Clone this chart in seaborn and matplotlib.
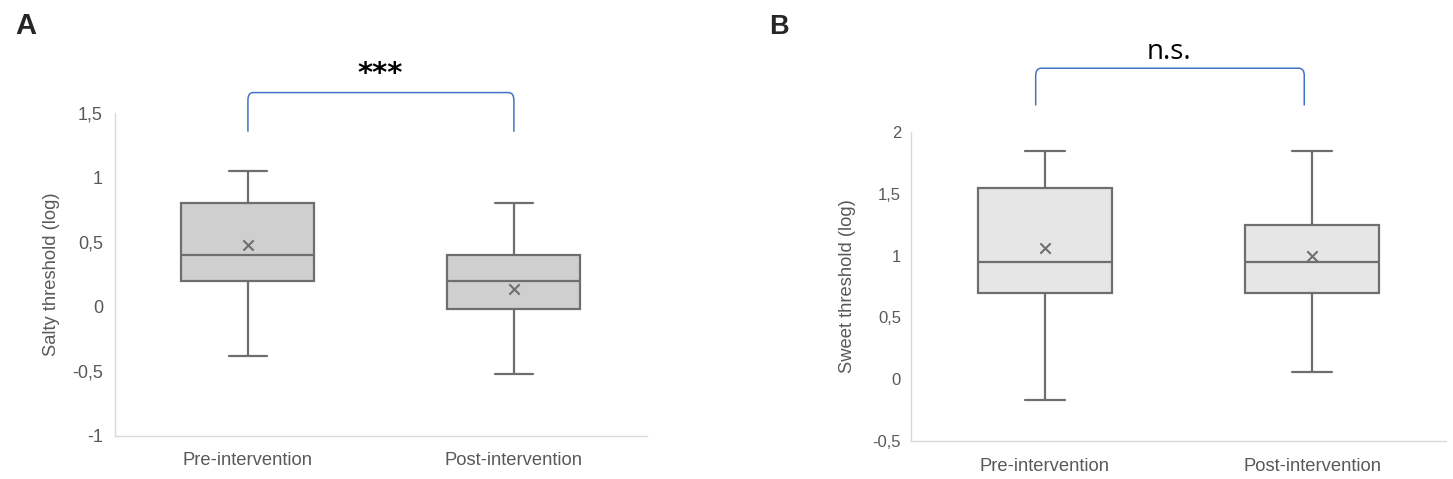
import matplotlib
matplotlib.use("Agg")
import matplotlib.pyplot as plt
from matplotlib.path import Path
from matplotlib.patches import PathPatch
from matplotlib.ticker import FuncFormatter
import seaborn as sns
import pandas as pd

groups = ["Pre-intervention", "Post-intervention"]

# panel A - salty threshold (log)
salty_min = [-0.38, -0.52]
salty_q1 = [0.20, -0.02]
salty_median = [0.40, 0.20]
salty_q3 = [0.80, 0.40]
salty_max = [1.05, 0.80]
salty_mean = [0.48, 0.14]

# panel B - sweet threshold (log)
sweet_min = [-0.17, 0.06]
sweet_q1 = [0.70, 0.70]
sweet_median = [0.95, 0.95]
sweet_q3 = [1.55, 1.25]
sweet_max = [1.85, 1.85]
sweet_mean = [1.06, 1.00]

sns.set_style("white")
plt.rcParams["font.family"] = ["Liberation Sans", "DejaVu Sans"]

EDGE = "#6e6e6e"
TXT = "#595959"
AXIS = "#d9d9d9"
BLUE = "#4472c4"


def five_numbers(mins, q1, med, q3, maxs):
    # five points per group -> quartiles of the sample equal the summary values
    rows = []
    for i, g in enumerate(groups):
        for v in (mins[i], q1[i], med[i], q3[i], maxs[i]):
            rows.append({"group": g, "value": v})
    return pd.DataFrame(rows)


def comma(v, pos):
    return f"{v:g}".replace(".", ",")


def bracket(ax, x0, x1, ybot, ytop, r, rx):
    verts = [(x0, ybot), (x0, ytop - r), (x0, ytop), (x0 + rx, ytop),
             (x1 - rx, ytop), (x1, ytop), (x1, ytop - r), (x1, ybot)]
    codes = [Path.MOVETO, Path.LINETO, Path.CURVE3, Path.CURVE3,
             Path.LINETO, Path.CURVE3, Path.CURVE3, Path.LINETO]
    ax.add_patch(PathPatch(Path(verts, codes), fill=False, edgecolor=BLUE,
                           linewidth=1.1, clip_on=False))


def panel(ax, df, means, fill, ylabel, ylim, yticks, capw,
          ticksize, ypad, xpad, labelx):
    sns.boxplot(data=df, x="group", y="value", ax=ax, whis=(0, 100),
                width=0.5, color=fill, linecolor=EDGE, linewidth=1.6,
                fliersize=0, saturation=1)
    for c in ax.containers:
        for cap in c.caps:
            xs = cap.get_xdata()
            mid = (xs[0] + xs[1]) / 2
            cap.set_xdata([mid - capw, mid + capw])
    sns.scatterplot(x=list(range(len(groups))), y=means, ax=ax, marker="x",
                    color=EDGE, s=55, linewidth=1.5, zorder=5, legend=False)
    ax.set_xlim(-0.5, 1.5)
    ax.set_ylim(*ylim)
    ax.set_yticks(yticks)
    ax.yaxis.set_major_formatter(FuncFormatter(comma))
    ax.set_xlabel("")
    ax.set_ylabel(ylabel, color=TXT, fontsize=13.2, va="center")
    ax.yaxis.set_label_coords(labelx, 0.5)
    ax.tick_params(axis="both", length=0, labelcolor=TXT)
    ax.tick_params(axis="y", pad=ypad, labelsize=ticksize)
    ax.tick_params(axis="x", pad=xpad, labelsize=13.2)
    for s in ["top", "right"]:
        ax.spines[s].set_visible(False)
    for s in ["left", "bottom"]:
        ax.spines[s].set_color(AXIS)
        ax.spines[s].set_linewidth(1.0)


fig = plt.figure(figsize=(14.53, 4.79), dpi=100)

axA = fig.add_axes([0.0791, 0.0898, 0.3661, 0.6743])
panel(axA, five_numbers(salty_min, salty_q1, salty_median, salty_q3, salty_max),
      salty_mean, "#d0cfd0", "Salty threshold (log)", (-1, 1.5),
      [-1, -0.5, 0, 0.5, 1, 1.5], 0.07, 13, 8.6, 11.2, -0.120)
bracket(axA, 0.0, 1.0, 1.355, 1.658, 0.06, 0.02)
axA.text(0.496, 1.80, "***", ha="center", va="center", fontsize=21,
         fontweight="bold", color="black", family=["DejaVu Sans"])

axB = fig.add_axes([0.627, 0.0793, 0.3682, 0.6451])
panel(axB, five_numbers(sweet_min, sweet_q1, sweet_median, sweet_q3, sweet_max),
      sweet_mean, "#e6e6e6", "Sweet threshold (log)", (-0.5, 2),
      [-0.5, 0, 0.5, 1, 1.5, 2], 0.075, 12, 7.2, 11.9, -0.1185)
bracket(axB, -0.034, 0.97, 2.215, 2.516, 0.06, 0.02)
axB.text(0.463, 2.645, "n.s.", ha="center", va="center", fontsize=20,
         color="black", family=["Open Sans", "DejaVu Sans"])

fig.text(0.0103, 0.945, "A", fontsize=21, fontweight="bold", va="center",
         family=["Liberation Sans", "DejaVu Sans"])
fig.text(0.529, 0.9426, "B", fontsize=19.5, fontweight="bold", va="center",
         family=["Liberation Sans", "DejaVu Sans"])

fig.savefig("out.png", dpi=100)
